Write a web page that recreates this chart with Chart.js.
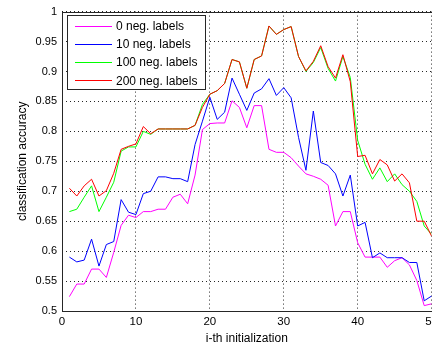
<!DOCTYPE html>
<html>
<head>
<meta charset="utf-8">
<script src="https://cdn.jsdelivr.net/npm/chart.js@4/dist/chart.umd.min.js"></script>
<style>
  html, body { margin: 0; padding: 0; background: #fff; overflow: hidden; }
  #wrap { width: 432px; height: 344px; overflow: hidden; }
  #box { width: 442px; height: 344px; }
</style>
</head>
<body>
<div id="wrap"><div id="box"><canvas id="accChart"></canvas></div></div>
<script>
Chart.defaults.font.family = '"Liberation Sans", Arial, sans-serif';
Chart.defaults.color = '#000';

const initIdx = [];
for (let i = 1; i <= 50; i++) initIdx.push(i);

const seriesLabels = ['0 neg. labels', '10 neg. labels', '100 neg. labels', '200 neg. labels'];
const seriesColors = ['#ff00ff', '#0000ff', '#00ff00', '#ff0000'];

const neg0 = [0.524, 0.545, 0.545, 0.570, 0.570, 0.556, 0.598, 0.643, 0.660, 0.656,
              0.666, 0.666, 0.670, 0.670, 0.690, 0.695, 0.679, 0.727, 0.803, 0.813,
              0.814, 0.814, 0.851, 0.840, 0.806, 0.843, 0.843, 0.770, 0.765, 0.765,
              0.756, 0.742, 0.729, 0.725, 0.720, 0.710, 0.642, 0.666, 0.666, 0.614,
              0.590, 0.590, 0.590, 0.573, 0.584, 0.589, 0.577, 0.551, 0.509, 0.512];
const neg10 = [0.590, 0.582, 0.585, 0.620, 0.575, 0.611, 0.616, 0.686, 0.665, 0.661,
               0.696, 0.700, 0.724, 0.724, 0.721, 0.721, 0.716, 0.778, 0.817, 0.857,
               0.820, 0.832, 0.889, 0.862, 0.835, 0.864, 0.871, 0.888, 0.860, 0.873,
               0.856, 0.790, 0.735, 0.834, 0.748, 0.743, 0.729, 0.692, 0.727, 0.642,
               0.648, 0.589, 0.597, 0.589, 0.589, 0.589, 0.581, 0.581, 0.517, 0.525];
const neg100 = [0.666, 0.670, 0.690, 0.709, 0.666, 0.690, 0.715, 0.767, 0.774, 0.774,
                0.800, 0.795, 0.804, 0.804, 0.804, 0.804, 0.804, 0.810, 0.845, 0.862,
                0.868, 0.880, 0.920, 0.916, 0.872, 0.920, 0.926, 0.976, 0.962, 0.970,
                0.975, 0.925, 0.900, 0.915, 0.940, 0.905, 0.884, 0.925, 0.890, 0.785,
                0.745, 0.720, 0.739, 0.716, 0.729, 0.711, 0.700, 0.683, 0.642, 0.628];
const neg200 = [0.705, 0.692, 0.709, 0.720, 0.692, 0.701, 0.730, 0.770, 0.775, 0.779,
                0.808, 0.796, 0.804, 0.804, 0.804, 0.804, 0.804, 0.810, 0.840, 0.862,
                0.868, 0.880, 0.920, 0.916, 0.872, 0.920, 0.926, 0.976, 0.962, 0.970,
                0.975, 0.925, 0.901, 0.917, 0.943, 0.908, 0.889, 0.928, 0.883, 0.758,
                0.760, 0.729, 0.753, 0.744, 0.717, 0.729, 0.714, 0.650, 0.650, 0.625];

const allSeries = [neg0, neg10, neg100, neg200];

// axes box like matlab plus the legend box in the top left corner
const frameAndLegend = {
    id: 'frameAndLegend',
    afterDraw(chart) {
        const {ctx, chartArea: a} = chart;
        ctx.save();
        ctx.strokeStyle = '#262626';
        ctx.lineWidth = 1;
        ctx.setLineDash([]);
        ctx.strokeRect(Math.round(a.left) + 0.5, Math.round(a.top) + 0.5,
                       Math.round(a.right - a.left), Math.round(a.bottom - a.top));

        const lx = Math.round(a.left) + 5, ly = Math.round(a.top) + 3;
        const lw = 138, lh = 74;
        ctx.fillStyle = '#fff';
        ctx.fillRect(lx, ly, lw, lh);
        ctx.strokeRect(lx + 0.5, ly + 0.5, lw, lh);
        ctx.font = '12px "Liberation Sans", Arial, sans-serif';
        ctx.textBaseline = 'middle';
        ctx.fillStyle = '#000';
        chart.data.datasets.forEach((ds, i) => {
            const y = ly + 10.5 + i * 18.3;
            ctx.strokeStyle = ds.borderColor;
            ctx.beginPath();
            ctx.moveTo(lx + 8, Math.round(y) + 0.5);
            ctx.lineTo(lx + 45, Math.round(y) + 0.5);
            ctx.stroke();
            ctx.fillText(ds.label, lx + 49, y + 1);
        });
        ctx.restore();
    }
};

new Chart(document.getElementById('accChart'), {
    type: 'line',
    data: {
        labels: initIdx,
        datasets: allSeries.map((vals, i) => ({
            label: seriesLabels[i],
            data: vals.map((v, j) => ({x: initIdx[j], y: v})),
            borderColor: seriesColors[i],
            borderWidth: 1,
            pointRadius: 0,
            tension: 0,
            fill: false,
            order: 3 - i
        }))
    },
    options: {
        responsive: true,
        maintainAspectRatio: false,
        animation: false,
        layout: {padding: {top: 11, left: 0, right: 0, bottom: 0}},
        plugins: {legend: {display: false}, tooltip: {enabled: false}},
        scales: {
            x: {
                type: 'linear',
                min: 0, max: 50,
                ticks: {stepSize: 10, padding: 4, font: {size: 11.5}, maxRotation: 0},
                grid: {color: 'rgba(0,0,0,0.85)', drawTicks: false},
                border: {display: false, dash: [1, 3]},
                title: {display: true, text: 'i-th initialization', font: {size: 12},
                        padding: {top: 0, bottom: -2}},
                afterFit(s) { s.height = 33; }
            },
            y: {
                min: 0.5, max: 1,
                ticks: {stepSize: 0.05, padding: 5, font: {size: 11},
                        callback: v => String(Number(v.toFixed(2)))},
                grid: {color: 'rgba(0,0,0,0.85)', drawTicks: false},
                border: {display: false, dash: [1, 3]},
                title: {display: true, text: 'classification accuracy', font: {size: 12},
                        padding: {top: 15, bottom: 0}},
                afterFit(s) { s.width = 62; }
            }
        }
    },
    plugins: [frameAndLegend]
});
</script>
</body>
</html>
